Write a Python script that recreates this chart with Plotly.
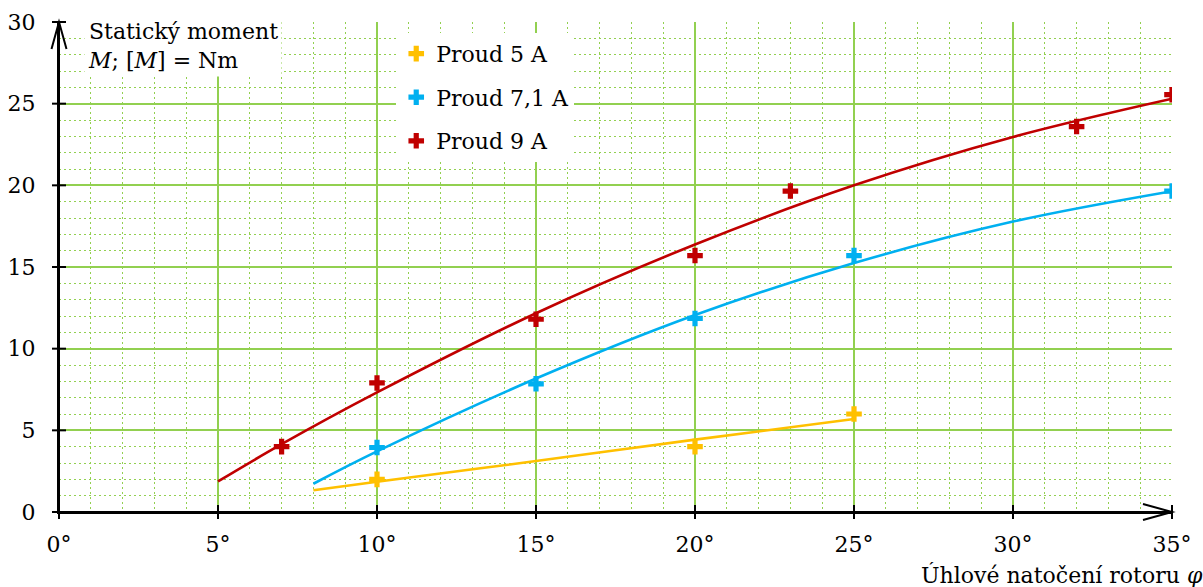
import plotly.graph_objects as go

# ---------------- data ----------------
series_names = ["Proud 5 A", "Proud 7,1 A", "Proud 9 A"]
series_colors = ["#FFC000", "#00B0F0", "#C00000"]

angles_5 = [10, 20, 25]
moment_5 = [2.0, 4.0, 6.0]
angles_71 = [10, 15, 20, 25, 35]
moment_71 = [3.95, 7.85, 11.85, 15.7, 19.65]
angles_9 = [7, 10, 15, 20, 23, 32, 35]
moment_9 = [4.0, 7.9, 11.8, 15.7, 19.65, 23.6, 25.55]

# trend curves
trend_x_5 = [8, 10, 15, 20, 25]
trend_y_5 = [1.33, 1.85, 3.12, 4.43, 5.69]
trend_x_71 = [8, 10, 15, 20, 25, 30, 35]
trend_y_71 = [1.73, 3.71, 8.17, 12.06, 15.24, 17.78, 19.64]
trend_x_9 = [5, 7, 10, 15, 20, 25, 30, 35]
trend_y_9 = [1.87, 4.15, 7.32, 12.17, 16.38, 20.0, 22.96, 25.3]

x_ticks = [0, 5, 10, 15, 20, 25, 30, 35]
y_ticks = [0, 5, 10, 15, 20, 25, 30]
x_range = [0, 35]
y_range = [0, 30]

GREEN = "#92D050"
FONT = "DejaVu Serif"
FS = 22
W, H = 1203, 587
ML, MR, MT, MB = 59, 31, 22, 75
PW, PH = W - ML - MR, H - MT - MB

fig = go.Figure()

points = [(angles_5, moment_5), (angles_71, moment_71), (angles_9, moment_9)]
trends = [(trend_x_5, trend_y_5), (trend_x_71, trend_y_71), (trend_x_9, trend_y_9)]

for (tx, ty), col in zip(trends, series_colors):
    fig.add_trace(go.Scatter(x=tx, y=ty, mode="lines", line=dict(color=col, width=2.6, shape="spline", smoothing=1.0),
                             showlegend=False, hoverinfo="skip"))

for i, ((px, py), col, name) in enumerate(zip(points, series_colors, series_names)):
    fig.add_trace(go.Scatter(x=px, y=py, mode="markers", name=name, legendgroup=f"g{i}",
                             marker=dict(symbol="cross", size=13, color=col, line=dict(width=0))))

common_axis = dict(showgrid=True, gridcolor=GREEN, gridwidth=1.5, zeroline=False, automargin=False,
                   showline=True, linecolor="black", linewidth=2, ticks="",
                   minor=dict(dtick=1, showgrid=True, gridcolor=GREEN, griddash="2px,3px", gridwidth=1.3),
                   tickfont=dict(family=FONT, size=FS, color="black"))

fig.update_layout(
    width=W, height=H,
    margin=dict(l=ML, r=MR, t=MT, b=MB),
    plot_bgcolor="white", paper_bgcolor="white",
    font=dict(family=FONT, size=FS, color="black"),
    xaxis=dict(range=x_range, tickmode="array", tickvals=x_ticks, ticktext=[f"{v}°" for v in x_ticks],
               ticklabelstandoff=12, **common_axis),
    yaxis=dict(range=y_range, tickmode="array", tickvals=y_ticks, ticktext=[str(v) for v in y_ticks],
               ticklabelstandoff=17, **common_axis),
    legend=dict(x=0.303, y=0.978, xanchor="left", yanchor="top", bgcolor="white", borderwidth=0,
                font=dict(family=FONT, size=FS, color="black"), tracegroupgap=12,
                traceorder="grouped", itemwidth=30),
    showlegend=True,
)

axis_line = dict(color="black", width=2)
# axis lines (drawn explicitly so both are sure to appear)
fig.add_shape(type="line", xref="paper", yref="paper", x0=0, x1=0, y0=0, y1=1, line=axis_line, layer="above")
fig.add_shape(type="line", xref="paper", yref="paper", x0=0, x1=1, y0=0, y1=0, line=axis_line, layer="above")

# crossing tick marks (7 px each side)
for v in x_ticks:
    xp = (v - x_range[0]) / (x_range[1] - x_range[0])
    fig.add_shape(type="line", xref="paper", yref="paper", x0=xp, x1=xp, y0=-7 / PH, y1=7 / PH,
                  line=axis_line, layer="above")
for v in y_ticks:
    yp = (v - y_range[0]) / (y_range[1] - y_range[0])
    fig.add_shape(type="line", xref="paper", yref="paper", x0=-7 / PW, x1=7 / PW, y0=yp, y1=yp,
                  line=axis_line, layer="above")

# axis arrows (open chevrons)
fig.add_shape(type="path", xref="paper", yref="paper",
              path=f"M {-7.5 / PW},{1 - 27 / PH} L 0,1 L {7.5 / PW},{1 - 27 / PH}",
              line=axis_line, layer="above")
fig.add_shape(type="path", xref="paper", yref="paper",
              path=f"M {1 - 29 / PW},{8 / PH} L 1,0 L {1 - 29 / PW},{-8 / PH}",
              line=axis_line, layer="above")

# y-axis label box
fig.add_annotation(xref="paper", yref="paper", x=0.0225, y=1.015, xanchor="left", yanchor="top",
                   text="Statický moment<br><i>M</i>; [<i>M</i>] = Nm", align="left", showarrow=False,
                   bgcolor="white", borderpad=3, font=dict(family=FONT, size=FS, color="black"))

# x-axis title
fig.add_annotation(xref="paper", yref="paper", x=1.03, y=-0.098, xanchor="right", yanchor="top",
                   text="Úhlové natočení rotoru <i>φ</i>", showarrow=False,
                   font=dict(family=FONT, size=FS, color="black"))

fig.write_html("out.html", config={"displayModeBar": False},
               post_script="document.body.style.margin='0';")
